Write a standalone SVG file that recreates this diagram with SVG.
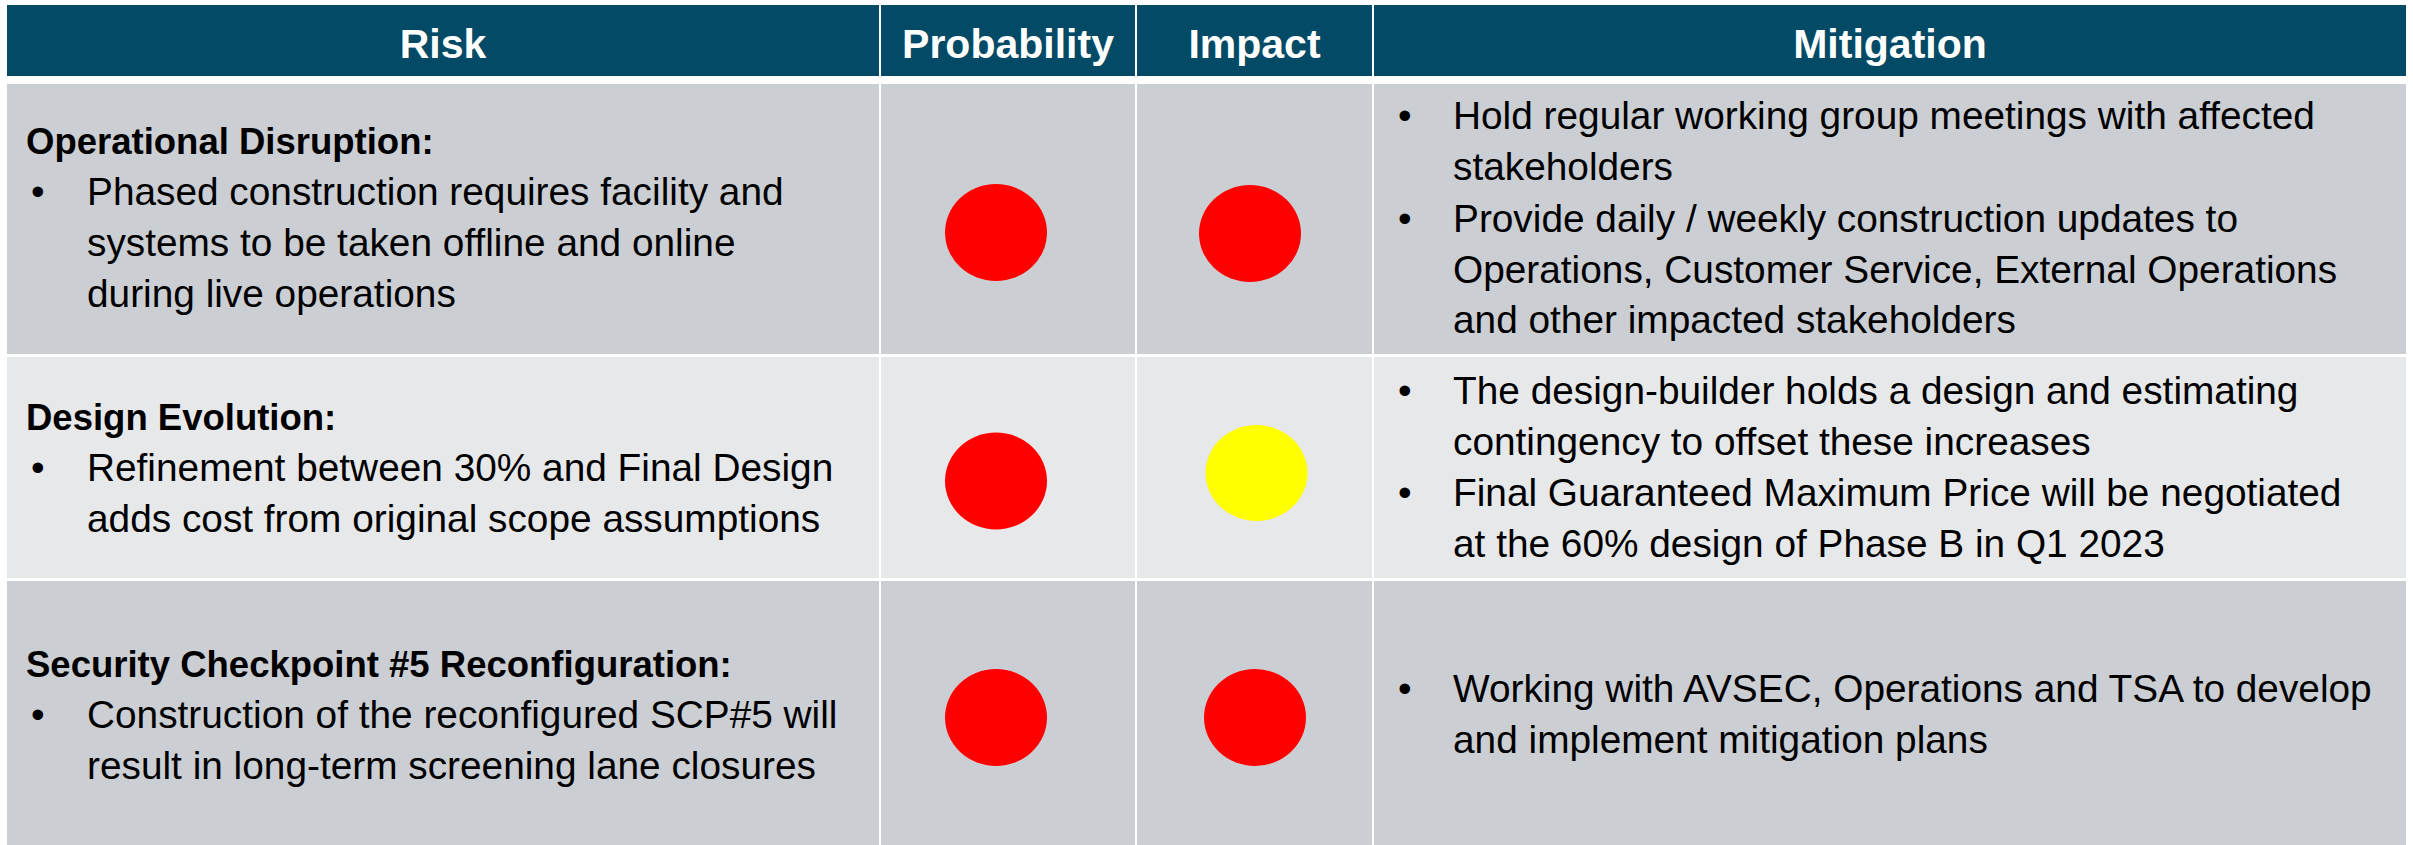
<svg xmlns="http://www.w3.org/2000/svg" width="2413" height="845" viewBox="0 0 2413 845">
<style>
.hdr{fill:#024a66}
.r1{fill:#cbced3}
.r2{fill:#e7e8ea}
.ht{font-family:"Liberation Sans",Arial,sans-serif;font-weight:bold;font-size:41px;fill:#ffffff;text-anchor:middle}
.b{font-family:"Liberation Sans",Arial,sans-serif;font-weight:bold;font-size:36.5px;fill:#000000}
.t{font-family:"Liberation Sans",Arial,sans-serif;font-size:38.8px;fill:#000000}
.red{fill:#ff0000}
.yel{fill:#ffff00}
</style>
<rect x="0" y="0" width="2413" height="845" fill="#ffffff"/>
<g id="header">
<rect class="hdr" x="7" y="5" width="872" height="71"/>
<rect class="hdr" x="881" y="5" width="254" height="71"/>
<rect class="hdr" x="1137" y="5" width="235" height="71"/>
<rect class="hdr" x="1374" y="5" width="1032" height="71"/>
<text class="ht" x="443" y="58">Risk</text>
<text class="ht" x="1008" y="58">Probability</text>
<text class="ht" x="1254.5" y="58">Impact</text>
<text class="ht" x="1890" y="58">Mitigation</text>
</g>
<g id="row1">
<rect class="r1" x="7" y="84" width="872" height="270"/>
<rect class="r1" x="881" y="84" width="254" height="270"/>
<rect class="r1" x="1137" y="84" width="235" height="270"/>
<rect class="r1" x="1374" y="84" width="1032" height="270"/>
<text class="b" x="26" y="154">Operational Disruption:</text>
<text class="t" x="31" y="205">•</text>
<text class="t" x="87" y="205">Phased construction requires facility and</text>
<text class="t" x="87" y="256">systems to be taken offline and online</text>
<text class="t" x="87" y="307">during live operations</text>
<ellipse class="red" cx="996" cy="232.5" rx="51" ry="48.5"/>
<ellipse class="red" cx="1250" cy="233.5" rx="51" ry="48.5"/>
<text class="t" x="1398" y="129">•</text>
<text class="t" x="1453" y="129">Hold regular working group meetings with affected</text>
<text class="t" x="1453" y="180">stakeholders</text>
<text class="t" x="1398" y="232">•</text>
<text class="t" x="1453" y="232">Provide daily / weekly construction updates to</text>
<text class="t" x="1453" y="283">Operations, Customer Service, External Operations</text>
<text class="t" x="1453" y="333">and other impacted stakeholders</text>
</g>
<g id="row2">
<rect class="r2" x="7" y="357" width="872" height="221"/>
<rect class="r2" x="881" y="357" width="254" height="221"/>
<rect class="r2" x="1137" y="357" width="235" height="221"/>
<rect class="r2" x="1374" y="357" width="1032" height="221"/>
<text class="b" x="26" y="430">Design Evolution:</text>
<text class="t" x="31" y="481">•</text>
<text class="t" x="87" y="481">Refinement between 30% and Final Design</text>
<text class="t" x="87" y="532">adds cost from original scope assumptions</text>
<ellipse class="red" cx="996" cy="481" rx="51" ry="48.5"/>
<ellipse class="yel" cx="1256.5" cy="473" rx="51" ry="48"/>
<text class="t" x="1398" y="404">•</text>
<text class="t" x="1453" y="404">The design-builder holds a design and estimating</text>
<text class="t" x="1453" y="455">contingency to offset these increases</text>
<text class="t" x="1398" y="506">•</text>
<text class="t" x="1453" y="506">Final Guaranteed Maximum Price will be negotiated</text>
<text class="t" x="1453" y="557">at the 60% design of Phase B in Q1 2023</text>
</g>
<g id="row3">
<rect class="r1" x="7" y="581" width="872" height="264"/>
<rect class="r1" x="881" y="581" width="254" height="264"/>
<rect class="r1" x="1137" y="581" width="235" height="264"/>
<rect class="r1" x="1374" y="581" width="1032" height="264"/>
<text class="b" x="26" y="677">Security Checkpoint #5 Reconfiguration:</text>
<text class="t" x="31" y="728">•</text>
<text class="t" x="87" y="728">Construction of the reconfigured SCP#5 will</text>
<text class="t" x="87" y="779">result in long-term screening lane closures</text>
<ellipse class="red" cx="996" cy="717.5" rx="51" ry="48.5"/>
<ellipse class="red" cx="1255" cy="717.5" rx="51" ry="48.5"/>
<text class="t" x="1398" y="702">•</text>
<text class="t" x="1453" y="702">Working with AVSEC, Operations and TSA to develop</text>
<text class="t" x="1453" y="753">and implement mitigation plans</text>
</g>
<g id="connectors"/>
</svg>
